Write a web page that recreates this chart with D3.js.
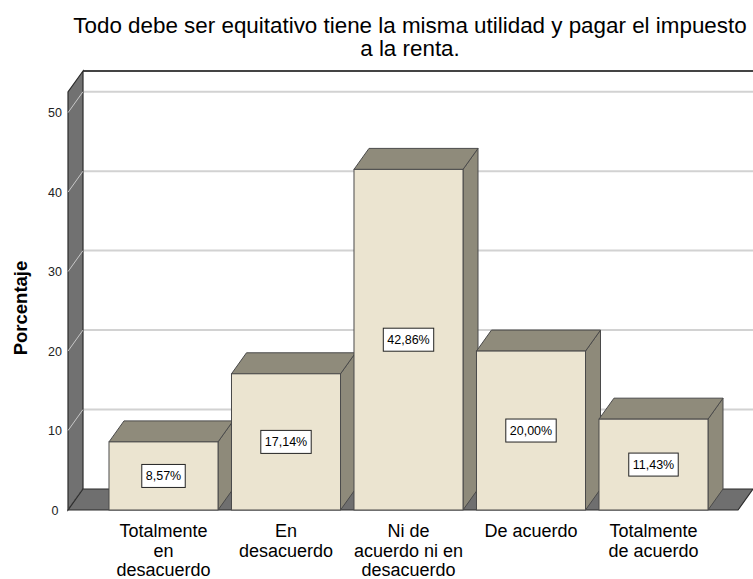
<!DOCTYPE html>
<html>
<head>
<meta charset="utf-8">
<script src="https://cdn.jsdelivr.net/npm/d3@7"></script>
<style>
	body { margin: 0; background: #fff; }
	text { font-family: "Liberation Sans", Arial, sans-serif; }
</style>
</head>
<body>
<svg id="chart"></svg>
<script>
const categories = [
	["Totalmente", "en", "desacuerdo"],
	["En", "desacuerdo"],
	["Ni de", "acuerdo ni en", "desacuerdo"],
	["De acuerdo"],
	["Totalmente", "de acuerdo"]
];
const values = [8.57, 17.14, 42.86, 20.00, 11.43];
const valueLabels = ["8,57%", "17,14%", "42,86%", "20,00%", "11,43%"];
const yTicks = [0, 10, 20, 30, 40, 50];
const titleLines = ["Todo debe ser equitativo tiene la misma utilidad y pagar el impuesto", "a la renta."];

const width = 753, height = 579;
const dx = 15, dy = 21;   // depth offset of the 3D box
const frontLeft = 68, frontRight = 738;

const svg = d3.select("#chart")
	.attr("width", width)
	.attr("height", height);

const x = d3.scaleBand()
	.domain(d3.range(values.length))
	.range([109, 708])
	.paddingInner(0.11)
	.paddingOuter(0);

const y = d3.scaleLinear()
	.domain([0, 52.6])
	.range([510, 92]);

const y0 = y(0), yTop = y(52.6);

// back wall
svg.append("rect")
	.attr("x", frontLeft + dx)
	.attr("y", yTop - dy)
	.attr("width", width - frontLeft - dx)
	.attr("height", y0 - yTop)
	.attr("fill", "#fff");

svg.selectAll("grid")
	.data(yTicks.filter(d => d > 0))
	.enter()
	.append("line")
	.attr("x1", frontLeft + dx)
	.attr("x2", width)
	.attr("y1", d => y(d) - dy)
	.attr("y2", d => y(d) - dy)
	.attr("stroke", "#d2d2d2")
	.attr("stroke-width", 2);

svg.append("line")
	.attr("x1", frontLeft + dx)
	.attr("x2", width)
	.attr("y1", yTop - dy)
	.attr("y2", yTop - dy)
	.attr("stroke", "#444")
	.attr("stroke-width", 2);

// left wall
svg.append("polygon")
	.attr("points", [[frontLeft, y0], [frontLeft, yTop], [frontLeft + dx, yTop - dy], [frontLeft + dx, y0 - dy]].join(" "))
	.attr("fill", "#717171")
	.attr("stroke", "#2b2b2b")
	.attr("stroke-width", 1.2);

svg.selectAll("tickdiag")
	.data(yTicks)
	.enter()
	.append("line")
	.attr("x1", frontLeft)
	.attr("x2", frontLeft + dx)
	.attr("y1", d => y(d))
	.attr("y2", d => y(d) - dy)
	.attr("stroke", "#c8c8c8")
	.attr("stroke-width", 1);

// floor
svg.append("polygon")
	.attr("points", [[frontLeft, y0], [frontRight, y0], [frontRight + dx, y0 - dy], [frontLeft + dx, y0 - dy]].join(" "))
	.attr("fill", "#6f6f6f")
	.attr("stroke", "#2b2b2b")
	.attr("stroke-width", 1.2);

// y tick labels
svg.selectAll("ylabels")
	.data(yTicks)
	.enter()
	.append("text")
	.attr("x", 55)
	.attr("y", d => y(d) + 4.5)
	.attr("text-anchor", "middle")
	.style("font-size", "12.5px")
	.attr("fill", "#222")
	.text(d => d);

svg.append("text")
	.attr("transform", "translate(27,308) rotate(-90)")
	.attr("text-anchor", "middle")
	.style("font-size", "18.5px")
	.style("font-weight", "bold")
	.text("Porcentaje");

// bars
const bw = x.bandwidth();
const bars = svg.selectAll("bar")
	.data(values)
	.enter()
	.append("g");

bars.append("polygon")
	.attr("points", function (d, i) {
		const x0 = x(i), yt = y(d);
		return [[x0 + bw, yt], [x0 + bw + dx, yt - dy], [x0 + bw + dx, y0 - dy], [x0 + bw, y0]].join(" ");
	})
	.attr("fill", "#8e8a7a")
	.attr("stroke", "#4a4a4a");

bars.append("polygon")
	.attr("points", function (d, i) {
		const x0 = x(i), yt = y(d);
		return [[x0, yt], [x0 + dx, yt - dy], [x0 + bw + dx, yt - dy], [x0 + bw, yt]].join(" ");
	})
	.attr("fill", "#8f8b7b")
	.attr("stroke", "#4a4a4a");

bars.append("rect")
	.attr("x", (d, i) => x(i))
	.attr("y", d => y(d))
	.attr("width", bw)
	.attr("height", d => y0 - y(d))
	.attr("fill", "#ebe4d0")
	.attr("stroke", "#4a4a4a");

// value labels
bars.each(function (d, i) {
	const g = d3.select(this);
	const cx = x(i) + bw / 2, cy = (y(d) + y0) / 2;
	const t = g.append("text")
		.attr("x", cx)
		.attr("y", cy + 4.5)
		.attr("text-anchor", "middle")
		.style("font-size", "12.5px")
		.text(valueLabels[i]);
	const w = t.node().getComputedTextLength() + 8;
	g.insert("rect", "text")
		.attr("x", cx - w / 2)
		.attr("y", cy - 11.5)
		.attr("width", w)
		.attr("height", 23)
		.attr("fill", "#fff")
		.attr("stroke", "#222");
});

// category labels
categories.forEach(function (lines, i) {
	svg.append("text")
		.attr("text-anchor", "middle")
		.style("font-size", "18px")
		.selectAll("tspan")
		.data(lines)
		.enter()
		.append("tspan")
		.attr("x", x(i) + bw / 2)
		.attr("y", (d, j) => 537 + j * 19.5)
		.text(d => d);
});

// title
svg.append("text")
	.attr("text-anchor", "middle")
	.style("font-size", "22.4px")
	.selectAll("tspan")
	.data(titleLines)
	.enter()
	.append("tspan")
	.attr("x", 410)
	.attr("y", (d, j) => 33 + j * 23)
	.text(d => d);
</script>
</body>
</html>
